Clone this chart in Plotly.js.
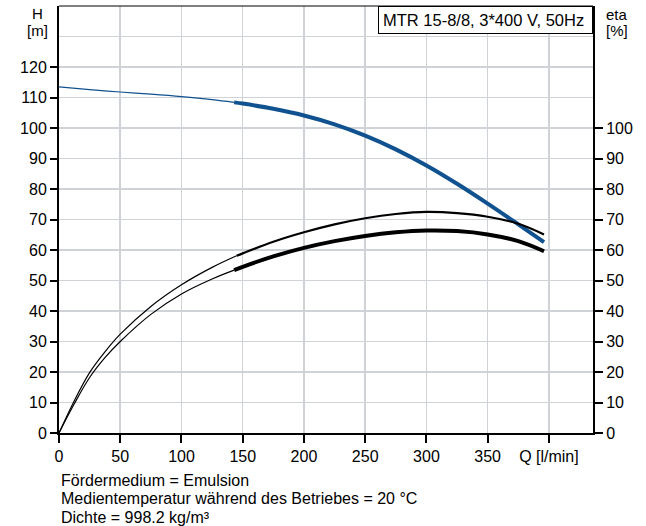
<!DOCTYPE html>
<html>
<head>
<meta charset="utf-8">
<script src="https://cdn.plot.ly/plotly-3.0.1.min.js"></script>
<style>html,body{margin:0;padding:0;background:#fff;}#chart{width:646px;height:526px;}</style>
</head>
<body>
<div id="chart"></div>
<script>
// Förderhöhe H [m] (blue)
const hQThin = [0, 25, 50, 75, 100, 125, 143];
const hThin  = [113.5, 112.6, 111.8, 111.1, 110.3, 109.3, 108.4];
const hQThick = [143, 150, 175, 200, 225, 250, 275, 300, 325, 350, 375, 396];
const hThick  = [108.4, 108.0, 106.3, 104.1, 101.2, 97.5, 93.0, 87.7, 81.7, 75.2, 68.4, 62.6];
// Wirkungsgrad eta [%] upper curve
const e1QThin = [0, 12.5, 25, 37.5, 50, 75, 100, 125, 145];
const e1Thin  = [0, 10.6, 19.8, 26.6, 32.4, 41.5, 48.6, 54.3, 58.1];
const e1QThick = [145, 150, 175, 200, 225, 250, 275, 300, 325, 350, 375, 396];
const e1Thick  = [58.1, 58.9, 62.7, 65.8, 68.4, 70.4, 71.8, 72.5, 72.1, 70.9, 68.6, 65.1];
// Wirkungsgrad eta [%] lower curve
const e2QThin = [0, 12.5, 25, 37.5, 50, 75, 100, 125, 143];
const e2Thin  = [0, 9.6, 18.2, 24.7, 30.0, 38.9, 45.6, 50.5, 53.4];
const e2QThick = [143, 150, 175, 200, 225, 250, 275, 300, 325, 350, 375, 396];
const e2Thick  = [53.4, 54.5, 57.9, 60.7, 62.9, 64.6, 65.8, 66.4, 66.2, 65.1, 62.9, 59.6];

const xTickVals = [0, 50, 100, 150, 200, 250, 300, 350, 400];
const xTickText = ['0', '50', '100', '150', '200', '250', '300', '350', 'Q [l/min]'];
const hTickVals = [0, 10, 20, 30, 40, 50, 60, 70, 80, 90, 100, 110, 120];
const extraGridVals = [130];
const etaTickVals = [0, 10, 20, 30, 40, 50, 60, 70, 80, 90, 100];

const infoLines = ['Fördermedium = Emulsion', 'Medientemperatur während des Betriebes = 20 °C', 'Dichte = 998.2 kg/m³'];
const pumpLabel = 'MTR 15-8/8, 3*400 V, 50Hz';

const BLUE = '#10518f';
const GRID = '#cfd2d6';
const FONT = 'Liberation Sans, Arial, sans-serif';

const traces = [
  {x: e1QThin, y: e1Thin, yaxis: 'y2', mode: 'lines', line: {color: '#000', width: 1.2, shape: 'spline', smoothing: 1}, hoverinfo: 'skip'},
  {x: e1QThick, y: e1Thick, yaxis: 'y2', mode: 'lines', line: {color: '#000', width: 2.2, shape: 'spline', smoothing: 1}, hoverinfo: 'skip'},
  {x: e2QThin, y: e2Thin, yaxis: 'y2', mode: 'lines', line: {color: '#000', width: 1.2, shape: 'spline', smoothing: 1}, hoverinfo: 'skip'},
  {x: e2QThick, y: e2Thick, yaxis: 'y2', mode: 'lines', line: {color: '#000', width: 4, shape: 'spline', smoothing: 1}, hoverinfo: 'skip'},
  {x: hQThin, y: hThin, mode: 'lines', line: {color: BLUE, width: 1.2, shape: 'spline', smoothing: 1}, hoverinfo: 'skip'},
  {x: hQThick, y: hThick, mode: 'lines', line: {color: BLUE, width: 4, shape: 'spline', smoothing: 1}, hoverinfo: 'skip'}
];

const annotations = [
  {xref: 'paper', yref: 'paper', x: 1, y: 1, xanchor: 'right', yanchor: 'top', text: pumpLabel, showarrow: false,
   align: 'left', width: 205, bgcolor: '#fff', bordercolor: '#000', borderwidth: 1, borderpad: 4,
   font: {family: FONT, size: 16.5, color: '#000'}},
  {xref: 'paper', yref: 'paper', x: 0, y: 1, xanchor: 'center', yanchor: 'middle', xshift: -22, yshift: -7,
   text: 'H', showarrow: false, font: {family: FONT, size: 15, color: '#000'}},
  {xref: 'paper', yref: 'paper', x: 0, y: 1, xanchor: 'center', yanchor: 'middle', xshift: -22, yshift: -24,
   text: '[m]', showarrow: false, font: {family: FONT, size: 15, color: '#000'}},
  {xref: 'paper', yref: 'paper', x: 1, y: 1, xanchor: 'left', yanchor: 'middle', xshift: 11, yshift: -8,
   text: 'eta', showarrow: false, font: {family: FONT, size: 15, color: '#000'}},
  {xref: 'paper', yref: 'paper', x: 1, y: 1, xanchor: 'left', yanchor: 'middle', xshift: 11, yshift: -24,
   text: '[%]', showarrow: false, font: {family: FONT, size: 15, color: '#000'}}
];
infoLines.forEach((t, i) => {
  annotations.push({xref: 'paper', yref: 'paper', x: 0, y: 0, xanchor: 'left', yanchor: 'middle',
    yshift: -47 - i * 18.5, text: t, showarrow: false, font: {family: FONT, size: 16, color: '#000'}});
});

const layout = {
  width: 646, height: 526,
  margin: {l: 59, r: 53, t: 6, b: 93},
  paper_bgcolor: '#fff', plot_bgcolor: '#fff',
  showlegend: false,
  font: {family: FONT, size: 16, color: '#000'},
  xaxis: {range: [0, 436], tickvals: xTickVals, ticktext: xTickText, ticks: 'outside', ticklen: 8, tickwidth: 2, tickcolor: '#000',
          showgrid: true, gridcolor: GRID, gridwidth: 1.5, zeroline: false,
          showline: true, linecolor: '#000', linewidth: 2, tickfont: {size: 16}},
  yaxis: {range: [0, 140], tickvals: hTickVals, ticks: 'outside', ticklen: 7, tickwidth: 2, tickcolor: '#000',
          showgrid: true, gridcolor: GRID, gridwidth: 1.5, zeroline: false,
          minor: {tickvals: extraGridVals, showgrid: true, gridcolor: GRID, gridwidth: 1.5, ticks: ''},
          showline: true, linecolor: '#000', linewidth: 2, tickfont: {size: 16}},
  yaxis2: {range: [0, 140], overlaying: 'y', side: 'right', tickvals: etaTickVals, ticks: 'outside', ticklen: 8, tickwidth: 2, tickcolor: '#000',
           showgrid: false, zeroline: false, showline: true, linecolor: '#000', linewidth: 2, tickfont: {size: 16}},
  shapes: [{type: 'line', xref: 'paper', yref: 'paper', x0: 0, x1: 1, y0: 1, y1: 1, line: {color: '#000', width: 1}}],
  annotations: annotations
};

Plotly.newPlot('chart', traces, layout, {staticPlot: true, displayModeBar: false});
</script>
</body>
</html>
